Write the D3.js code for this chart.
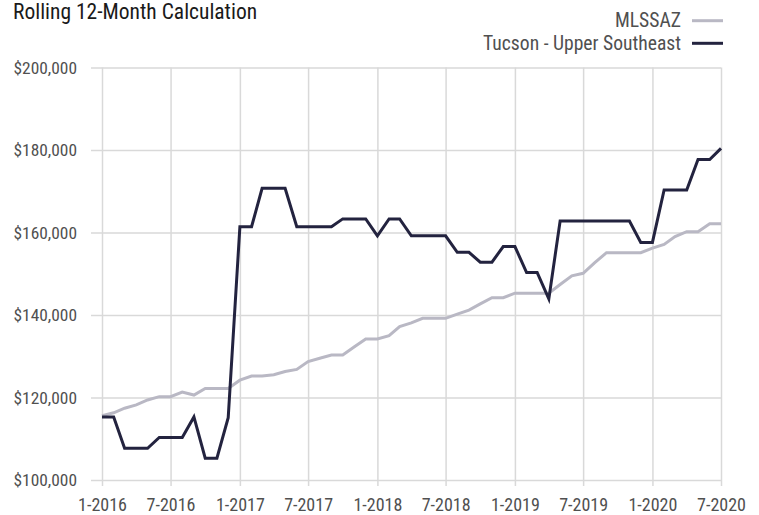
<!DOCTYPE html>
<html>
<head>
<meta charset="utf-8">
<script src="https://cdn.jsdelivr.net/npm/d3@7"></script>
<style>
  html, body { margin: 0; padding: 0; background: #fff; }
  svg { display: block; }
  text { font-family: "Liberation Sans Narrow", "Roboto Condensed", "Arial Narrow", "Liberation Sans", sans-serif; font-weight: 400; }
</style>
</head>
<body>
<svg id="chart" width="759" height="515"></svg>
<script>
// Monthly rolling 12-month values, Jan 2016 through Jul 2020
const startMonth = new Date(2016, 0, 1);
const endMonth = new Date(2020, 6, 1);

const mlssaz = [
  115600, 116300, 117400, 118200, 119400, 120200, 120200, 121300, 120600, 122200,
  122200, 122200, 124200, 125200, 125200, 125500, 126300, 126800, 128700, 129500,
  130300, 130300, 132300, 134200, 134200, 135000, 137200, 138100, 139200, 139200,
  139200, 140200, 141200, 142700, 144200, 144200, 145300, 145300, 145300, 145300,
  147400, 149500, 150100, 152700, 155100, 155100, 155100, 155100, 156200, 157100,
  159000, 160200, 160200, 162100, 162100
];

const tucsonUpperSE = [
  115300, 115300, 107700, 107700, 107700, 110300, 110300, 110300, 115300, 105300,
  105300, 115100, 161400, 161400, 170700, 170700, 170700, 161400, 161400, 161400,
  161400, 163300, 163300, 163300, 159200, 163300, 163300, 159200, 159200, 159200,
  159200, 155200, 155200, 152800, 152800, 156600, 156600, 150300, 150300, 143900,
  162800, 162800, 162800, 162800, 162800, 162800, 162800, 157600, 157600, 170300,
  170300, 170300, 177700, 177700, 180400
];

const yTicks = [100000, 120000, 140000, 160000, 180000, 200000];
const xTickLabels = ["1-2016", "7-2016", "1-2017", "7-2017", "1-2018", "7-2018",
                     "1-2019", "7-2019", "1-2020", "7-2020"];

const seriesNames = ["MLSSAZ", "Tucson - Upper Southeast"];
const seriesColors = ["#b9b8c4", "#23233f"];

const months = d3.timeMonth.range(startMonth, d3.timeMonth.offset(endMonth, 1));
const xTickDates = d3.timeMonth.every(6).range(startMonth, d3.timeMonth.offset(endMonth, 1));

const svg = d3.select("#chart");
const plotLeft = 102, plotRight = 721, plotTop = 67.5, plotBottom = 480;

const x = d3.scaleTime().domain([startMonth, endMonth]).range([plotLeft, plotRight]);
const y = d3.scaleLinear().domain([100000, 200000]).range([plotBottom, plotTop]);

const gridColor = "#d9d9d9";
const labelColor = "#505050";

// Y axis with full-width gridlines
const yAxis = svg.append("g")
  .attr("transform", `translate(${plotLeft},0)`)
  .call(d3.axisLeft(y).tickValues(yTicks).tickSize(11).tickPadding(14)
    .tickFormat(d => "$" + d3.format(",")(d)));
yAxis.select(".domain").remove();
yAxis.selectAll(".tick line")
  .attr("x1", -11).attr("x2", plotRight - plotLeft)
  .attr("stroke", gridColor).attr("stroke-width", 1.5);
yAxis.selectAll(".tick text")
  .attr("fill", labelColor).style("font-size", "17.4px");

// X axis with full-height gridlines
const xAxis = svg.append("g")
  .attr("transform", `translate(0,${plotBottom})`)
  .call(d3.axisBottom(x).tickValues(xTickDates).tickSize(6)
    .tickFormat((d, i) => xTickLabels[i]));
xAxis.select(".domain").remove();
xAxis.selectAll(".tick line")
  .attr("y1", plotTop - plotBottom).attr("y2", 6)
  .attr("stroke", gridColor).attr("stroke-width", 1.5);
xAxis.selectAll(".tick text")
  .attr("y", 31).attr("dy", 0)
  .attr("fill", labelColor).style("font-size", "18px");

// Series lines
const line = d3.line()
  .x((d, i) => x(months[i]))
  .y(d => y(d));

[mlssaz, tucsonUpperSE].forEach((vals, k) => {
  svg.append("path")
    .datum(vals)
    .attr("fill", "none")
    .attr("stroke", seriesColors[k])
    .attr("stroke-width", 3)
    .attr("stroke-linejoin", "miter")
    .attr("d", line);
});

// Title
svg.append("text")
  .attr("x", 13).attr("y", 18.5)
  .attr("fill", "#1a1a1a")
  .style("font-size", "21.5px")
  .text("Rolling 12-Month Calculation");

// Legend (right aligned)
const legend = svg.append("g");
seriesNames.forEach((name, k) => {
  const cy = 20.7 + k * 22.6;
  legend.append("line")
    .attr("x1", 692).attr("x2", 723)
    .attr("y1", cy).attr("y2", cy)
    .attr("stroke", seriesColors[k]).attr("stroke-width", 3);
  legend.append("text")
    .attr("x", 681).attr("y", cy + 6.5)
    .attr("text-anchor", "end")
    .attr("fill", labelColor)
    .style("font-size", "19.6px")
    .text(name);
});
</script>
</body>
</html>
